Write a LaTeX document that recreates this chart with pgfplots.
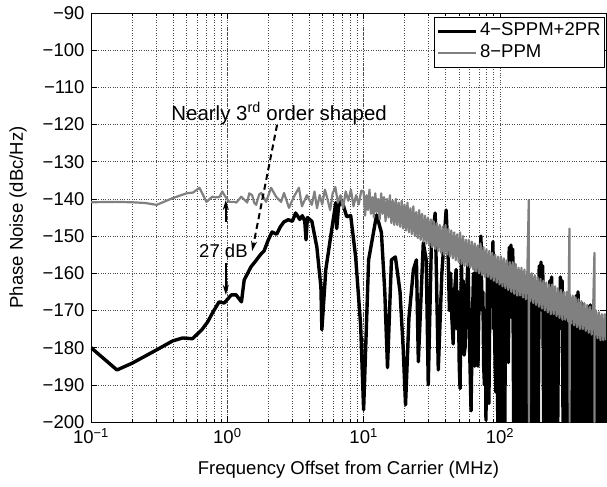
\documentclass[border=0pt]{standalone}
\usepackage{fontspec}
\setmainfont{Liberation Sans}
\usepackage{pgfplots}
\pgfplotsset{compat=1.18}
\usetikzlibrary{arrows.meta}
\definecolor{ppmgray}{rgb}{0.5,0.5,0.5}
\newcommand{\chartfont}{\fontsize{18.6}{21}\selectfont}
\begin{document}
\begin{tikzpicture}
\path[use as bounding box] (-91bp,-65bp) rectangle (516bp,422bp);
\begin{axis}[
  at={(0,0)}, anchor=south west,
  scale only axis, width=515bp, height=409bp,
  xmode=log, xmin=0.1, xmax=600, ymin=-200, ymax=-90,
  font=\chartfont,
  xtick={0.1,1,10,100},
  xticklabels={10\textsuperscript{−1},10\textsuperscript{0},10\textsuperscript{1},10\textsuperscript{2}},
  ytick={-200,-190,-180,-170,-160,-150,-140,-130,-120,-110,-100,-90},
  yticklabels={−200,−190,−180,−170,−160,−150,−140,−130,−120,−110,−100,−90},
  yticklabel style={xshift=-3bp},
  xticklabel style={yshift=-3bp},
  tick align=inside, xtick pos=both, ytick pos=both,
  major tick length=6bp, minor tick length=3bp,
  xmajorgrids, xminorgrids, ymajorgrids,
  grid style={dotted, black!70, line width=0.6pt},
  minor grid style={dotted, black!70, line width=0.6pt},
  axis line style={line width=0.8pt},
  every tick/.style={black, line width=0.6pt},
  xlabel={Frequency Offset from Carrier (MHz)},
  ylabel={Phase Noise (dBc/Hz)},
  every axis y label/.style={at={(axis description cs:0,0.5)}, xshift=-73bp, rotate=90, anchor=center},
  every axis x label/.style={at={(axis description cs:0.5,0)}, yshift=-48bp, anchor=center},
  legend style={at={(1,1)}, anchor=north east, xshift=-1bp, yshift=-4bp, draw=black, line width=0.8pt,
    font=\chartfont, inner xsep=2bp, inner ysep=3bp,
    nodes={inner ysep=2bp, text height=13bp, text depth=5bp}},
  legend cell align=left,
  legend image code/.code={\draw[#1] (0bp,0bp) -- (38bp,0bp);},
]
\addplot[black, line width=3.4bp, line join=round] coordinates {
(0.1,-180) (0.155,-186) (0.2,-184.2) (0.303,-180.6) (0.397,-178.2) (0.47,-177.4) (0.555,-177.6)
(0.65,-175.2) (0.72,-173) (0.78,-170.6) (0.87,-167.7) (0.95,-168) (1.07,-165.8) (1.16,-165.8)
(1.27,-167.7) (1.33,-161.8) (1.49,-158.3) (1.63,-156.5) (1.75,-155) (1.86,-154) (2.0,-151)
(2.13,-148.9) (2.3,-149.5) (2.45,-147.5) (2.6,-146.2) (2.8,-145.6) (3.0,-146) (3.17,-143.8)
(3.4,-145.5) (3.55,-144.5) (3.7,-146) (3.78,-151) (3.87,-145) (4.17,-146) (4.54,-153)
(4.86,-163.7) (4.94,-175.2) (5.28,-159) (5.74,-150) (6.25,-141) (6.35,-148) (6.55,-142)
(6.91,-140.3) (7.52,-144.8) (8.04,-144.5) (8.74,-155.6) (9.51,-174) (10.0,-196.7)
(10.88,-156.4) (12.45,-144.3) (13.5,-149) (14.3,-165) (14.97,-185.4) (16.0,-156.4)
(17.1,-155.6) (18.5,-165) (19.5,-180) (20.3,-195.4) (21.5,-172) (23.2,-159) (24.4,-156.4)
(25.2,-183.8) (27.4,-151.8) (28.8,-156.4) (29.8,-190) (31.4,-152.4) (33.5,-143.8) (35.3,-186)
(37.5,-160) (40.3,-143) (41.7,-155.6) (42.6,-170) (43.5,-160) (44.4,-172) (45.4,-179)
(46.5,-165) (47.7,-159) (48.6,-175) (49.5,-165) (50.3,-185) (51.0,-191) (52.2,-156.4)
(53.0,-175) (53.8,-162) (54.6,-182) (55.5,-179.8) (56.9,-165) (58.4,-156.4) (59.9,-180)
(61.4,-197) (62.6,-175) (64.0,-160) (65.4,-185) (66.8,-158) (67.9,-180) (69.0,-185)
(70.8,-160) (72.6,-150) (73.8,-170) (75.0,-165) (76.0,-185) (77.0,-190) (78.0,-170)
(79.0,-199.5) (80.0,-175) (81.0,-160) (82.0,-180) (83.0,-195) (84.2,-170) (85.5,-158)
(87.2,-165) (88.9,-151.5) (90.0,-175) (91.0,-170) (92.2,-185) (93.5,-192)
(95.0,-160) (96.4,-200) (97.9,-160.5) (99.3,-195) (100.8,-160) (102.3,-200) (103.9,-161)
(105.4,-188) (107.0,-160.5) (108.6,-200) (110.3,-161) (111.9,-182) (113.6,-160) (115.3,-184)
(117.0,-153) (118.8,-170) (120.6,-152.4) (122.4,-172) (124.2,-153.5) (126.1,-200) (128.0,-162)
(129.9,-200) (131.9,-162) (133.8,-195) (135.8,-162.5) (137.9,-200) (139.9,-163) (142.0,-200)
(144.2,-163) (146.3,-190) (148.5,-163.5) (150.8,-200) (153.0,-164) (155.3,-200) (157.6,-164)
(160.0,-200) (162.4,-164.5) (164.9,-200) (167.3,-165) (169.8,-198) (172.4,-165) (175.0,-200)
(177.6,-165.5) (180.3,-200) (183.0,-166) (185.7,-200) (188.5,-166) (191.3,-200) (194.2,-158)
(197.1,-168) (200.1,-157) (203.1,-170) (206.1,-158) (209.2,-200) (212.4,-167) (215.6,-200)
(218.8,-167.5) (222.1,-200) (225.4,-168) (228.8,-200) (232.3,-162) (235.7,-170) (239.3,-161)
(242.9,-200) (246.5,-168.5) (250.2,-200) (254.0,-169) (257.8,-200) (261.7,-169) (265.6,-200)
(269.6,-169.5) (273.6,-175) (277.7,-161) (281.9,-172) (286.1,-162) (290.4,-200) (294.8,-170)
(299.2,-200) (303.7,-170.5) (308.2,-200) (312.9,-171) (317.6,-200) (322.3,-171) (327.2,-200)
(332.1,-171.5) (337.0,-200) (342.1,-172) (347.2,-200) (352.4,-172) (357.7,-200) (363.1,-166)
(368.6,-178) (374.1,-165) (379.7,-200) (385.4,-173) (391.2,-200) (397.1,-168) (403.0,-175)
(409.1,-168.5) (415.2,-200) (421.5,-173.5) (427.8,-200) (434.2,-174) (440.7,-200) (447.3,-169)
(454.0,-178) (460.8,-168.5) (467.7,-200) (474.8,-174.5) (481.9,-200) (489.1,-175) (496.4,-200)
(503.9,-175) (511.5,-200) (519.1,-171.7) (526.9,-180) (534.8,-175.5) (542.9,-200) (551.0,-176)
(559.3,-200) (567.7,-176) (576.2,-200) (584.8,-176.5) (593.6,-200) (602.5,-177)
};
\addlegendentry{4−SPPM+2PR}
\addplot[ppmgray, line width=2.2bp, line join=round] coordinates {
(0.1,-140.9) (0.15,-140.8) (0.2,-140.9) (0.25,-141.1) (0.303,-141.6) (0.397,-139.8) (0.502,-138.5)
(0.56,-138.3) (0.625,-137) (0.703,-140.8) (0.777,-139.4) (0.82,-139.6) (0.874,-139.5) (0.919,-138)
(0.951,-139) (1.034,-140.8) (1.125,-140.8) (1.163,-141) (1.266,-139.4) (1.4,-141) (1.448,-138.5)
(1.522,-139) (1.574,-141) (1.628,-141.6) (1.713,-138.8) (1.771,-138.4) (1.926,-140.8) (2.095,-137)
(2.279,-139.4) (2.479,-140.8) (2.606,-138.4) (2.835,-142.4) (3.083,-139.4) (3.354,-137) (3.527,-142)
(3.837,-139) (4.17,-141.6) (4.36,-138) (4.55,-142.5) (4.76,-139) (4.97,-141.5) (5.2,-137.5)
(5.43,-140) (5.68,-143) (5.93,-138.5) (6.2,-136.8) (6.48,-141) (6.77,-139) (7.07,-142.5)
(7.39,-138) (7.72,-140.5) (8.07,-137.5) (8.43,-142) (8.81,-139) (9.2,-141.5) (9.62,-137.8)
(10.00,-138) (10.25,-144.5) (10.51,-139) (10.77,-143) (11.04,-137.5) (11.31,-144) (11.60,-139.5)
(11.89,-145) (12.18,-138.5) (12.49,-143.5) (12.80,-140) (13.12,-145.5) (13.45,-138.5) (13.79,-144)
(14.13,-139.5) (14.48,-146) (14.85,-140) (15.22,-145) (15.60,-139) (15.99,-146.5) (16.39,-140.5)
(16.80,-147) (17.22,-140) (17.65,-147) (18.09,-141) (18.54,-147.5) (19.01,-140.5) (19.48,-148)
(19.97,-141.5) (20.47,-148.5) (20.98,-141) (21.50,-149) (22.04,-142.5) (22.59,-149.5) (23.16,-142)
(23.74,-150) (24.33,-143.5) (24.94,-150.5) (25.56,-143) (26.20,-151) (26.86,-144) (27.53,-151.5)
(28.21,-144.5) (28.92,-152) (29.64,-145) (30.38,-152.5) (31.14,-145.5) (31.92,-153) (32.72,-146)
(33.54,-153.5) (34.38,-146.5) (35.24,-154) (36.12,-147) (37.02,-154.5) (37.95,-147.5) (38.89,-155)
(39.87,-147) (40.86,-155) (41.88,-148) (42.93,-155.5) (44.00,-148.5) (45.10,-156) (46.23,-149)
(47.39,-156.5) (48.57,-149.5) (49.79,-157) (51.03,-149) (52.31,-157.5) (53.61,-150) (54.95,-158)
(56.33,-151) (57.73,-158) (59.18,-151) (60.66,-158.5) (62.17,-151.5) (63.73,-159) (65.32,-152)
(66.95,-159.5) (68.63,-152.5) (70.34,-160) (72.10,-152) (73.90,-160.5) (75.75,-153) (77.65,-161)
(79.59,-153.5) (81.58,-161) (83.62,-154) (85.71,-161.5) (87.85,-154.5) (90.05,-162) (92.30,-155)
(94.61,-162.5) (96.97,-155.5) (99.40,-163) (101.9,-155.5) (104.4,-163.5) (107.0,-156) (109.7,-164)
(112.4,-156.5) (115.2,-164.5) (118.1,-157) (121.1,-165) (124.1,-157) (127.2,-165.5) (130.4,-157.5)
(133.7,-166) (137.0,-158.5) (140.4,-166) (143.9,-158.5) (147.5,-166.5) (151.2,-159) (155.0,-167)
(158.9,-159.5) (162.8,-140.3) (163.0,-200) (164.0,-160) (166.9,-167.5) (171.1,-160) (175.4,-168)
(179.8,-160.5) (184.2,-168.5) (188.9,-161) (193.6,-169) (198.4,-161.5) (203.4,-169.5) (208.5,-162)
(213.7,-170) (219.0,-162.5) (224.5,-170.5) (230.1,-163) (235.9,-171) (241.8,-163) (247.8,-171)
(254.0,-163.5) (260.4,-171.5) (266.9,-164) (273.6,-172) (280.4,-164.5) (287.4,-172.5) (294.6,-165)
(302.0,-172.5) (309.5,-165) (317.3,-173) (323.5,-148) (324.5,-200) (325.2,-165.5) (333.3,-173.5)
(341.6,-166) (350.2,-174) (358.9,-166.5) (367.9,-174.5) (377.1,-167) (386.5,-175) (396.2,-167.5)
(406.1,-175) (416.3,-168) (426.7,-175.5) (437.3,-168.5) (448.3,-176) (459.5,-169) (470.9,-176.5)
(482.7,-169.5) (493.5,-154.5) (494.5,-200) (494.8,-177) (507.1,-170) (519.8,-177.5) (532.8,-170.5)
(546.1,-178) (559.8,-171) (573.8,-178) (588.1,-171) (602.8,-178)
};
\addlegendentry{8−PPM}
\node[anchor=base, font=\fontsize{20.5}{23}\selectfont] at (axis cs:2.4,-118.8) {Nearly 3\textsuperscript{rd} order shaped};
\draw[black, solid, line width=2bp, dash pattern=on 6bp off 4bp, -{Stealth[length=10bp,width=6bp]}] (axis cs:2.317,-120.1) -- (axis cs:1.522,-154.0);
\node[font=\chartfont] at (axis cs:0.937,-154.1) {27 dB};
\draw[black, solid, line width=2bp, -{Stealth[length=10bp,width=6bp]}] (axis cs:0.975,-146.2) -- (axis cs:0.975,-140.3);
\draw[black, solid, line width=2bp, -{Stealth[length=10bp,width=6bp]}] (axis cs:0.975,-157.2) -- (axis cs:0.975,-165.8);
\end{axis}
\end{tikzpicture}
\end{document}
